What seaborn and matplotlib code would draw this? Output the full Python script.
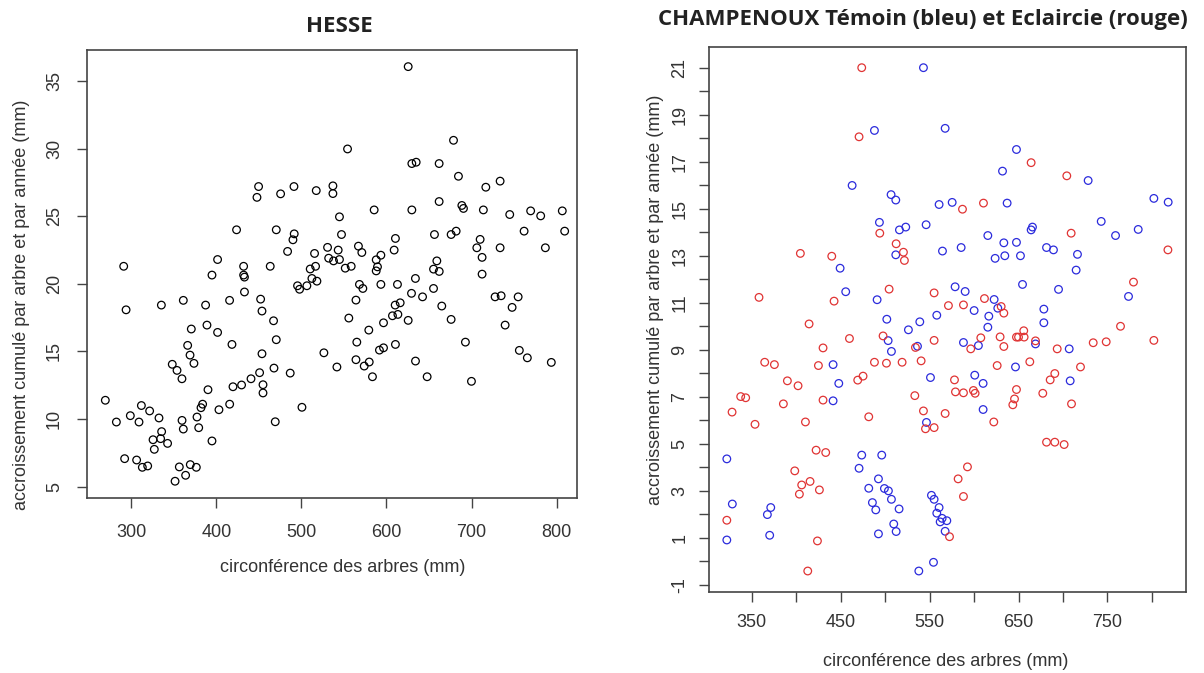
import numpy as np
import pandas as pd
import matplotlib
matplotlib.use("Agg")
import matplotlib.pyplot as plt
import seaborn as sns

# HESSE : circonference (mm) / accroissement (mm)
hesse_circ = [449.6, 447.7, 475.5, 491.2, 517.4, 423.7, 470.4, 491.5, 490.0, 483.7,
              515.4, 530.7, 532.0, 291.0, 401.4, 432.0, 432.0, 433.0, 394.8, 463.3,
              516.6, 510.3, 512.3, 518.2, 495.4, 506.4, 433.0,
              497.8, 452.0, 453.6, 467.2, 470.4, 453.6, 467.7, 486.8, 526.4, 450.8,
              454.8, 454.8, 440.7, 429.6, 419.5, 415.6, 403.0, 390.1, 383.8, 381.9,
              377.2, 379.2, 394.8, 500.6, 293.8, 335.3, 361.1, 387.3, 415.5, 388.9,
              370.5, 401.4, 418.3, 366.2, 369.0, 373.6, 348.1, 353.7, 359.5, 269.4,
              282.4, 298.8, 309.0, 311.8, 321.5, 332.5, 335.6, 334.4, 325.5, 327.0,
              342.6, 359.6, 361.1, 292.1, 306.2, 312.9, 319.2, 356.4, 369.3, 376.4,
              363.8, 351.4, 469.2,
              625.5, 554.2, 678.8, 629.8, 634.9, 661.9, 684.6, 716.8, 733.6, 537.0,
              537.0, 585.5, 629.8, 661.9, 688.6, 690.5, 713.9, 744.9, 769.5, 781.3,
              806.7, 809.5, 761.8, 710.1, 706.2, 733.6, 786.8, 712.4, 712.4, 656.4,
              676.0, 681.9, 544.7, 547.1, 543.2, 537.7, 544.7, 551.5, 558.5, 567.0,
              571.0, 587.9, 593.4, 589.4, 587.9, 610.5, 609.0, 659.2, 655.3, 662.0,
              634.0, 568.2, 572.2, 593.4, 612.9, 655.3,
              629.4, 642.4, 564.1, 610.2, 616.1, 607.0, 613.4, 555.7, 596.5, 625.5,
              665.0, 676.0, 579.2, 565.1, 610.5, 591.7, 596.5, 564.1, 579.7, 573.8,
              541.7, 583.5, 634.1, 647.8, 692.8, 699.9, 727.7, 734.8, 754.8, 747.7,
              739.5, 756.2, 765.6, 793.8]
hesse_accr = [27.2, 26.4, 26.66, 27.2, 26.9, 24.0, 24.0, 23.7, 23.26, 22.4,
              22.25, 22.7, 21.9, 21.3, 21.8, 21.3, 20.65, 20.5, 20.65, 21.3,
              21.3, 21.1, 20.4, 20.2, 19.86, 19.86, 19.4,
              19.6, 18.87, 17.99, 17.27, 15.87, 14.83, 13.77, 13.4, 14.9, 13.43,
              12.54, 11.93, 12.98, 12.52, 12.39, 11.1, 10.69, 12.17, 11.1, 10.84,
              10.15, 9.36, 8.38, 10.87, 18.08, 18.43, 18.78, 18.43, 18.78, 16.95,
              16.66, 16.41, 15.52, 15.45, 14.73, 14.12, 14.05, 13.6, 12.98, 11.39,
              9.78, 10.25, 9.78, 11.0, 10.6, 10.08, 9.07, 8.55, 8.47, 7.76,
              8.2, 9.9, 9.26, 7.07, 6.97, 6.43, 6.53, 6.46, 6.63, 6.43,
              5.84, 5.4, 9.8,
              36.07, 29.98, 30.62, 28.9, 29.0, 28.9, 27.96, 27.15, 27.6, 27.25,
              26.68, 25.47, 25.47, 26.09, 25.8, 25.58, 25.47, 25.13, 25.4, 25.03,
              25.4, 23.9, 23.9, 23.29, 22.67, 22.67, 22.67, 21.96, 20.72, 23.65,
              23.65, 23.9, 24.96, 23.65, 22.5, 21.7, 21.8, 21.16, 21.3, 22.79,
              22.32, 21.78, 22.12, 21.26, 20.96, 23.36, 22.5, 21.7, 21.09, 20.92,
              20.4, 19.96, 19.66, 19.96, 19.96, 19.66,
              19.3, 19.04, 18.8, 18.43, 18.6, 17.64, 17.74, 17.47, 17.12, 17.3,
              18.36, 17.37, 16.58, 15.69, 15.52, 15.1, 15.27, 14.39, 14.22, 13.92,
              13.85, 13.13, 14.29, 13.13, 15.69, 12.79, 19.04, 19.12, 19.04, 18.26,
              16.95, 15.08, 14.53, 14.19]

# CHAMPENOUX temoin (bleu)
temoin_circ = [543.1, 488.0, 567.5, 462.9, 506.7, 512.0, 560.7, 575.4, 493.6, 516.1,
               523.2, 546.1, 512.0, 564.5, 585.5, 449.4, 455.7, 491.0, 578.7, 590.0,
               558.1,
               647.7, 632.0, 728.3, 637.2, 802.2, 818.3, 743.0, 759.1, 784.6, 664.2,
               665.7, 615.5, 633.5, 647.7, 623.7, 634.6, 652.2, 681.5, 689.3, 716.3,
               714.8, 654.5, 695.0, 773.7, 600.1, 622.6, 626.7, 616.6, 678.5,
               501.9, 539.0, 526.2, 503.4, 507.1, 536.4, 588.1, 441.5, 447.9, 441.5,
               551.0, 546.5, 322.0, 473.7, 496.2, 470.7, 492.5, 481.6, 499.2, 503.7,
               507.1, 515.7, 485.7, 489.5, 552.1, 555.1, 560.7, 558.1, 564.1, 569.4,
               561.9, 567.5, 509.7, 512.4, 492.5, 328.2, 371.4, 367.6, 370.2, 322.0,
               554.4, 537.9,
               678.5, 615.5, 604.9, 669.1, 707.0, 646.6, 600.8, 610.2, 708.1, 610.2]
temoin_accr = [21.0, 18.33, 18.42, 15.99, 15.6, 15.37, 15.18, 15.27, 14.42, 14.1,
               14.22, 14.32, 13.04, 13.2, 13.35, 12.47, 11.47, 11.13, 11.68, 11.48,
               10.47,
               17.52, 16.6, 16.2, 15.24, 15.44, 15.28, 14.46, 13.86, 14.12, 14.1,
               14.22, 13.86, 13.55, 13.57, 12.89, 13.0, 13.0, 13.35, 13.25, 13.06,
               12.39, 11.78, 11.57, 11.27, 10.67, 11.14, 10.77, 10.43, 10.73,
               10.3, 10.19, 9.85, 9.39, 8.93, 9.15, 9.31, 8.37, 7.57, 6.83,
               7.82, 5.91, 4.36, 4.52, 4.52, 3.96, 3.51, 3.11, 3.1, 3.0,
               2.64, 2.23, 2.5, 2.19, 2.81, 2.64, 2.29, 2.05, 1.83, 1.73,
               1.68, 1.28, 1.59, 1.27, 1.17, 2.44, 2.29, 1.99, 1.11, 0.91,
               -0.04, -0.41,
               10.15, 9.96, 9.18, 9.25, 9.04, 8.27, 7.92, 7.57, 7.68, 6.46]

# CHAMPENOUX eclaircie (rouge)
eclaircie_circ = [473.7, 470.7, 404.7, 440.0, 494.0, 512.4, 520.6, 521.7, 587.0, 358.2,
                  442.6, 504.5, 555.1, 571.2, 588.1,
                  664.2, 704.3, 610.6, 709.2, 818.0, 779.3, 611.7, 630.5, 633.5,
                  414.5, 459.9, 430.2, 497.7, 555.1, 364.6, 375.5, 425.0, 488.0, 501.5,
                  519.1, 540.5, 534.1, 390.1, 402.1, 469.2, 475.2, 337.6, 343.2, 385.6,
                  430.2, 327.9, 353.7, 410.4, 481.6, 533.4, 578.0, 579.1, 588.1, 543.1,
                  567.5, 545.4, 555.1, 422.4, 433.2, 398.4, 406.2, 415.6, 403.6, 426.1,
                  582.1, 588.1, 423.9, 413.0, 572.4, 322.0,
                  655.9, 647.7, 650.0, 656.3, 629.3, 607.6, 596.3, 633.5, 669.1, 693.5,
                  734.0, 748.6, 764.7, 802.2, 662.7, 626.0, 719.7, 690.8, 685.6, 599.3,
                  601.2, 647.7, 645.5, 643.6, 677.3, 709.6, 622.2, 681.5, 690.8, 701.3,
                  592.6]
eclaircie_accr = [21.0, 18.06, 13.1, 12.98, 13.96, 13.51, 13.15, 12.8, 14.98, 11.23,
                  11.07, 11.58, 11.42, 10.88, 10.91,
                  16.96, 16.4, 15.24, 13.96, 13.25, 11.88, 11.18, 10.84, 10.56,
                  10.1, 9.48, 9.08, 9.59, 9.4, 8.47, 8.37, 8.33, 8.47, 8.43,
                  8.47, 8.53, 9.1, 7.68, 7.47, 7.71, 7.88, 7.01, 6.96, 6.7,
                  6.86, 6.35, 5.83, 5.93, 6.15, 7.05, 7.72, 7.21, 7.17, 6.4,
                  6.29, 5.64, 5.69, 4.73, 4.63, 3.85, 3.25, 3.4, 2.86, 3.04,
                  3.51, 2.76, 0.87, -0.41, 1.05, 1.75,
                  9.81, 9.54, 9.54, 9.54, 9.55, 9.51, 9.04, 9.14, 9.38, 9.04,
                  9.3, 9.34, 10.0, 9.4, 8.49, 8.33, 8.27, 7.99, 7.72, 7.27,
                  7.15, 7.31, 6.91, 6.66, 7.15, 6.7, 5.93, 5.07, 5.07, 4.97,
                  4.02]

hesse_df = pd.DataFrame({"circ": hesse_circ, "accr": hesse_accr})
champ_df = pd.concat([
    pd.DataFrame({"circ": temoin_circ, "accr": temoin_accr, "lot": "Témoin"}),
    pd.DataFrame({"circ": eclaircie_circ, "accr": eclaircie_accr, "lot": "Eclaircie"}),
], ignore_index=True)

sns.set_style("ticks")
plt.rcParams["font.family"] = ["Liberation Sans", "DejaVu Sans"]

W, H = 1204, 673
fig = plt.figure(figsize=(W / 100, H / 100), dpi=100)

def box(l, t, r, b):
    return [l / W, 1 - b / H, (r - l) / W, (b - t) / H]

ax1 = fig.add_axes(box(86.7, 50, 577, 498))
ax2 = fig.add_axes(box(709.3, 47, 1185.7, 591.7))

mk = dict(marker="o", s=30, linewidth=0.9, legend=False)
sns.scatterplot(data=hesse_df, x="circ", y="accr", ax=ax1,
                facecolor="none", edgecolor="black", **mk)
sns.scatterplot(data=champ_df, x="circ", y="accr", hue="lot", ax=ax2,
                palette={"Témoin": "#2b2bdc", "Eclaircie": "#e03434"},
                facecolor="none", **mk)
# open circles: seaborn fills with hue, so move hue colour to the edge
for coll in ax2.collections:
    fc = coll.get_facecolors()
    coll.set_edgecolors(fc)
    coll.set_facecolors("none")

ax1.set_xlim(247.5, 824)
ax1.set_ylim(4.16, 37.3)
ax1.set_xticks([300, 400, 500, 600, 700, 800])
ax1.set_yticks([5, 10, 15, 20, 25, 30, 35])

ax2.set_xlim(302.3, 838)
ax2.set_ylim(-1.29, 21.88)
xt = list(range(350, 801, 50))
ax2.set_xticks(xt)
ax2.set_xticklabels([str(v) if v % 100 == 50 else "" for v in xt])
yt = list(range(-1, 22))
ax2.set_yticks(yt)
ax2.set_yticklabels([str(v) if v % 2 != 0 else "" for v in yt])

for ax in (ax1, ax2):
    ax.set_xlabel("")
    ax.set_ylabel("")
    for sp in ax.spines.values():
        sp.set_visible(True)
        sp.set_color("#444444")
        sp.set_linewidth(1.2)
    ax.tick_params(length=7, width=1, color="#444444", labelsize=13, labelcolor="#333333")
    for lab in ax.get_yticklabels():
        lab.set_rotation(90)
        lab.set_va("center")

ax1.tick_params(axis="x", pad=12)
ax1.tick_params(axis="y", pad=10)
ax2.tick_params(axis="x", pad=9)
ax2.tick_params(axis="y", pad=8)

tfont = dict(family=["Open Sans", "DejaVu Sans"], fontweight="bold", fontsize=16, color="#222222")
fig.text(339 / W, 1 - 26 / H, "HESSE", ha="center", va="center", **tfont)
fig.text(923 / W, 1 - 20 / H, "CHAMPENOUX Témoin (bleu) et Eclaircie (rouge)",
         ha="center", va="center", **tfont)

lfont = dict(fontsize=13, color="#333333")
fig.text(22 / W, 1 - 305 / H, "accroissement cumulé par arbre et par année (mm)",
         rotation=90, ha="center", va="center", **lfont)
fig.text(343 / W, 1 - 568 / H, "circonférence des arbres (mm)",
         ha="center", va="center", **lfont)
fig.text(655 / W, 1 - 300 / H, "accroissement cumulé par arbre et par année (mm)",
         rotation=90, ha="center", va="center", **lfont)
fig.text(946 / W, 1 - 661 / H, "circonférence des arbres (mm)",
         ha="center", va="center", **lfont)

fig.savefig("out.png", dpi=100)
